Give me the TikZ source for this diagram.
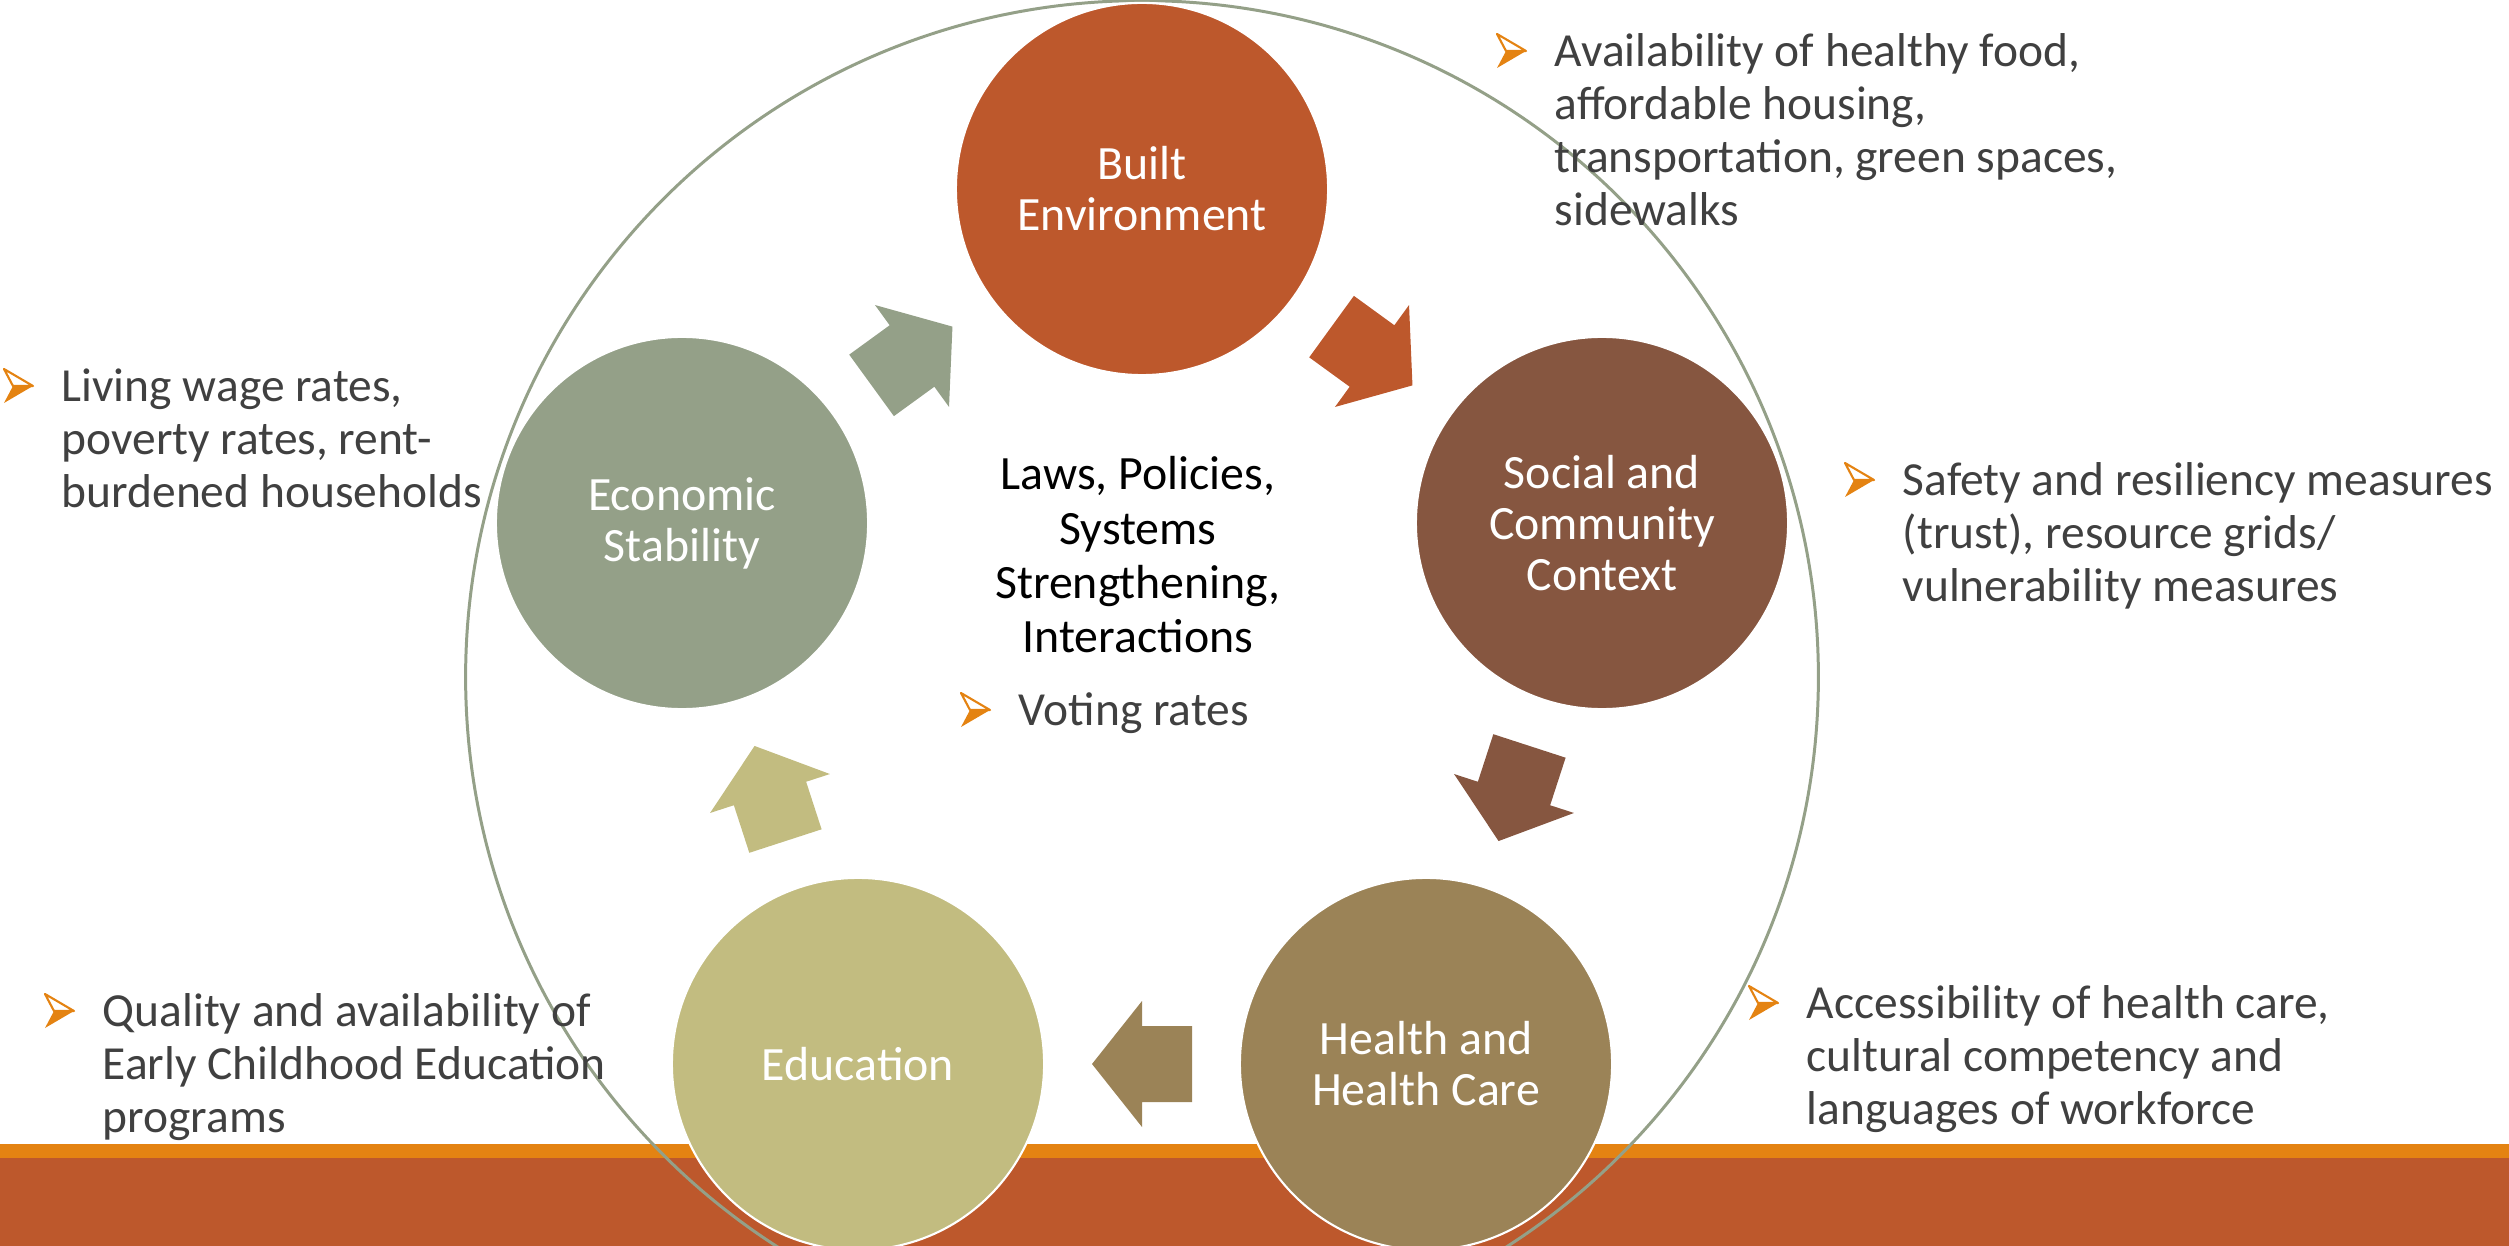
\documentclass[tikz,border=0pt]{standalone}
\usepackage{fontspec}
\setmainfont{Carlito}
\usepackage{tikz}
\usetikzlibrary{positioning,calc}
\definecolor{rust}{HTML}{BD582C}
\definecolor{barorange}{HTML}{E48312}
\definecolor{socialbrown}{HTML}{865640}
\definecolor{healthtan}{HTML}{9B8357}
\definecolor{educkhaki}{HTML}{C2BC80}
\definecolor{econsage}{HTML}{94A088}
\definecolor{textgray}{HTML}{404040}
\tikzset{
pics/blockarrow/.style={code={\fill (-50,-38) -- (0,-38) -- (0,-63) -- (50,0) -- (0,63) -- (0,38) -- (-50,38) -- cycle;}},
pics/bulletmark/.style={code={
\fill[barorange] (9,17) -- (29,17) -- (0,34) -- cycle;
\draw[barorange, line width=0.6pt, line join=round] (0,0) -- (29,17) -- (9,17) -- cycle;}}
}

\begin{document}
\begin{tikzpicture}[x=0.01cm, y=-0.01cm,
topic/.style={circle,fill=#1,draw=white,line width=0.6pt,minimum size=3.72cm,inner sep=0pt,text=white,align=center,font=\fontsize{13.6}{14.5}\selectfont},
note/.style={anchor=north west,inner sep=0pt,align=left,text=textgray,font=\fontsize{13.5}{15.1}\selectfont}]
\useasboundingbox (0,0) rectangle (2509,1246);
\clip (0,0) rectangle (2509,1246);
% bottom bars
\fill[barorange] (0,1144) rectangle (2509,1158);
\fill[rust] (0,1158) rectangle (2509,1246);
\draw[econsage, line width=0.85pt] (1142,677) circle[radius=6.76cm];
\begin{scope}
\node[topic=rust] (built) at (1142,189) {Built\\Environment};
\node[topic=socialbrown] (social) at (1602,523) {Social and\\Community\\Context};
\node[topic=healthtan] (health) at (1426,1064) {Health and\\Health Care};
\node[topic=educkhaki] (educ) at (858,1064) {Education};
\node[topic=econsage] (econ) at (682,523) {Economic\\Stability};
\end{scope}
\begin{scope}
\pic[rust, rotate=-36] at ($(built)!0.5!(social)$) {blockarrow};
\pic[socialbrown, rotate=-108] at ($(social)!0.5!(health)$) {blockarrow};
\pic[healthtan, rotate=180] at ($(health)!0.5!(educ)$) {blockarrow};
\pic[educkhaki, rotate=108] at ($(educ)!0.5!(econ)$) {blockarrow};
\pic[econsage, rotate=36] at ($(econ)!0.5!(built)$) {blockarrow};
\end{scope}
\node[anchor=north, inner sep=0pt, align=center, font=\fontsize{13.6}{15.4}\selectfont] (laws) at (1138,456) {Laws, Policies,\\Systems\\Strengthening,\\Interactions};
\node[note] (avail) at (1554,33) {Availability of healthy food,\\affordable housing,\\transportation, green spaces,\\sidewalks};
\node[note] (wage) at (61,368) {Living wage rates,\\poverty rates, rent-\\burdened households};
\node[note] (safety) at (1902,462) {Safety and resiliency measures\\(trust), resource grids/\\vulnerability measures};
\node[note] (access) at (1806,985) {Accessibility of health care,\\cultural competency and\\languages of workforce};
\node[note] (quality) at (102,993) {Quality and availability of\\Early Childhood Education\\programs};
\node[note] (voting) at (1018,692) {Voting rates};
\foreach \t in {avail,wage,safety,access,quality,voting}
  \pic at ($(\t.north west)+(-57,1)$) {bulletmark};
\end{tikzpicture}
\end{document}
